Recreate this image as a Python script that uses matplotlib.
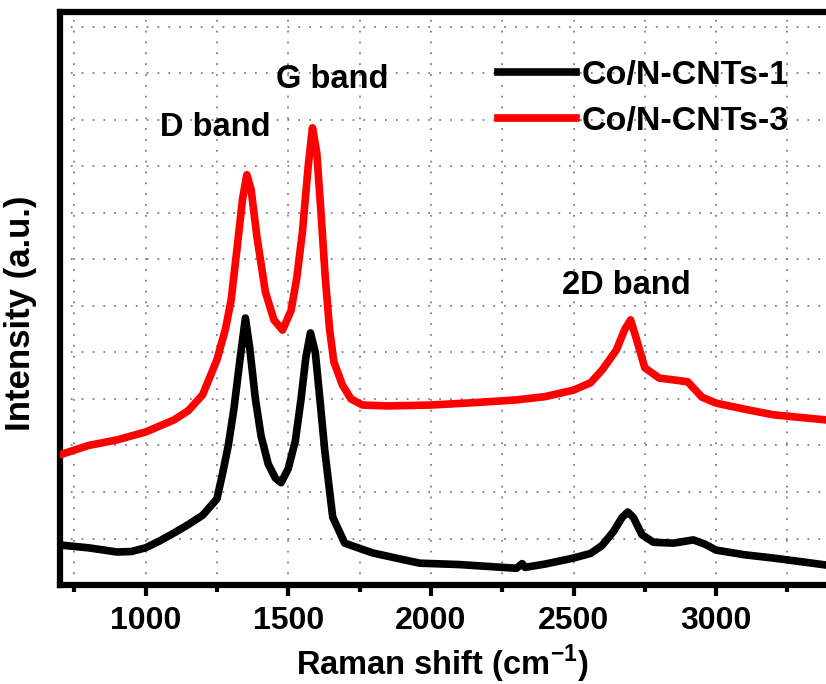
import matplotlib.pyplot as plt
from matplotlib.ticker import MultipleLocator

plt.rcParams['font.family'] = ['Liberation Sans', 'DejaVu Sans']
plt.rcParams['font.weight'] = 'bold'
plt.rcParams['mathtext.fontset'] = 'custom'
plt.rcParams['mathtext.bf'] = 'Liberation Sans:bold'
plt.rcParams['mathtext.rm'] = 'Liberation Sans:bold'

# Raman shift (cm-1) / intensity (a.u.)
shift_1 = [700, 800, 900, 950, 1000, 1050, 1100, 1150, 1200, 1250, 1270, 1290,
           1310, 1330, 1350, 1365, 1385, 1405, 1430, 1455, 1475, 1500, 1525,
           1545, 1562, 1578, 1595, 1611, 1628, 1656, 1698, 1796, 1900, 1961,
           2100, 2200, 2300, 2320, 2330, 2400, 2500, 2560, 2600, 2640, 2670,
           2690, 2710, 2740, 2780, 2850, 2920, 2960, 3000, 3100, 3200, 3300, 3385]
inten_1 = [0.86, 0.80, 0.71, 0.72, 0.80, 0.95, 1.12, 1.30, 1.50, 1.85, 2.4, 3.0,
           3.8, 4.8, 5.74, 5.1, 4.0, 3.2, 2.6, 2.3, 2.2, 2.5, 3.1,
           4.0, 4.9, 5.42, 5.0, 4.0, 2.9, 1.46, 0.90, 0.69, 0.55, 0.47,
           0.44, 0.40, 0.36, 0.46, 0.38, 0.45, 0.58, 0.68, 0.85, 1.15, 1.45,
           1.57, 1.45, 1.08, 0.92, 0.90, 0.97, 0.88, 0.75, 0.65, 0.58, 0.50, 0.43]

shift_3 = [700, 800, 900, 1000, 1100, 1150, 1200, 1250, 1280, 1300, 1320, 1340,
           1355, 1370, 1390, 1420, 1450, 1480, 1510, 1530, 1550, 1570, 1585,
           1600, 1615, 1630, 1645, 1660, 1690, 1720, 1760, 1850, 2000, 2150,
           2300, 2400, 2500, 2560, 2600, 2650, 2680, 2700, 2720, 2750, 2800,
           2900, 2950, 3000, 3100, 3200, 3300, 3385]
inten_3 = [2.8, 3.0, 3.12, 3.29, 3.55, 3.75, 4.09, 4.84, 5.5, 6.13, 7.2, 8.3,
           8.82, 8.5, 7.5, 6.3, 5.7, 5.48, 5.9, 6.6, 7.6, 9.0, 9.83,
           9.3, 8.0, 6.6, 5.5, 4.8, 4.3, 4.0, 3.87, 3.85, 3.87, 3.92,
           3.98, 4.05, 4.19, 4.35, 4.62, 5.05, 5.5, 5.7, 5.3, 4.67, 4.45,
           4.37, 4.04, 3.91, 3.78, 3.66, 3.6, 3.55]

band_names = ['D band', 'G band', '2D band']
band_x = [1243, 1656, 2686]
band_y = [9.83, 10.86, 6.45]

fig = plt.figure(figsize=(8.26, 6.84), dpi=100)
ax = fig.add_axes([0.0726, 0.1447, 0.9274, 0.8378])

ax.plot(shift_1, inten_1, color='black', lw=5.5, label='Co/N-CNTs-1', zorder=3)
ax.plot(shift_3, inten_3, color='#ff0000', lw=5.5, label='Co/N-CNTs-3', zorder=3)

for name, bx, by in zip(band_names, band_x, band_y):
    ax.text(bx, by, name, ha='center', va='center', fontsize=23.5, fontweight='bold')

ax.set_xlim(700, 3385)
ax.set_ylim(0, 12.32)
ax.xaxis.set_major_locator(MultipleLocator(500))
ax.xaxis.set_minor_locator(MultipleLocator(250))
ax.set_yticks(range(1, 13))
ax.set_yticklabels([])
ax.tick_params(axis='y', length=0)
ax.tick_params(axis='x', which='major', length=8, width=3, labelsize=23, pad=7)
ax.tick_params(axis='x', which='minor', length=5, width=3)
for lab in ax.get_xticklabels():
    lab.set_fontweight('bold')

ax.grid(True, which='both', axis='x', color='gray', ls=(0, (1, 5)), lw=1.3)
ax.grid(True, which='major', axis='y', color='gray', ls=(0, (1, 5)), lw=1.3)

for side in ['left', 'bottom', 'top']:
    ax.spines[side].set_linewidth(4.5)
ax.spines['right'].set_visible(False)

ax.set_xlabel('Raman shift (cm$^{\\mathbf{-1}}$)', fontsize=23.5, fontweight='bold')
ax.xaxis.set_label_coords(0.499, -0.1)
ax.set_ylabel('Intensity (a.u.)', fontsize=25, fontweight='bold')
ax.yaxis.set_label_coords(-0.03, 0.475)

ax.legend(loc='upper left', bbox_to_anchor=(0.532, 0.97), frameon=False,
          handlelength=2.3, handletextpad=0.15, labelspacing=0.45,
          prop={'weight': 'bold', 'size': 24.5})

fig.savefig('out.png', dpi=100)
